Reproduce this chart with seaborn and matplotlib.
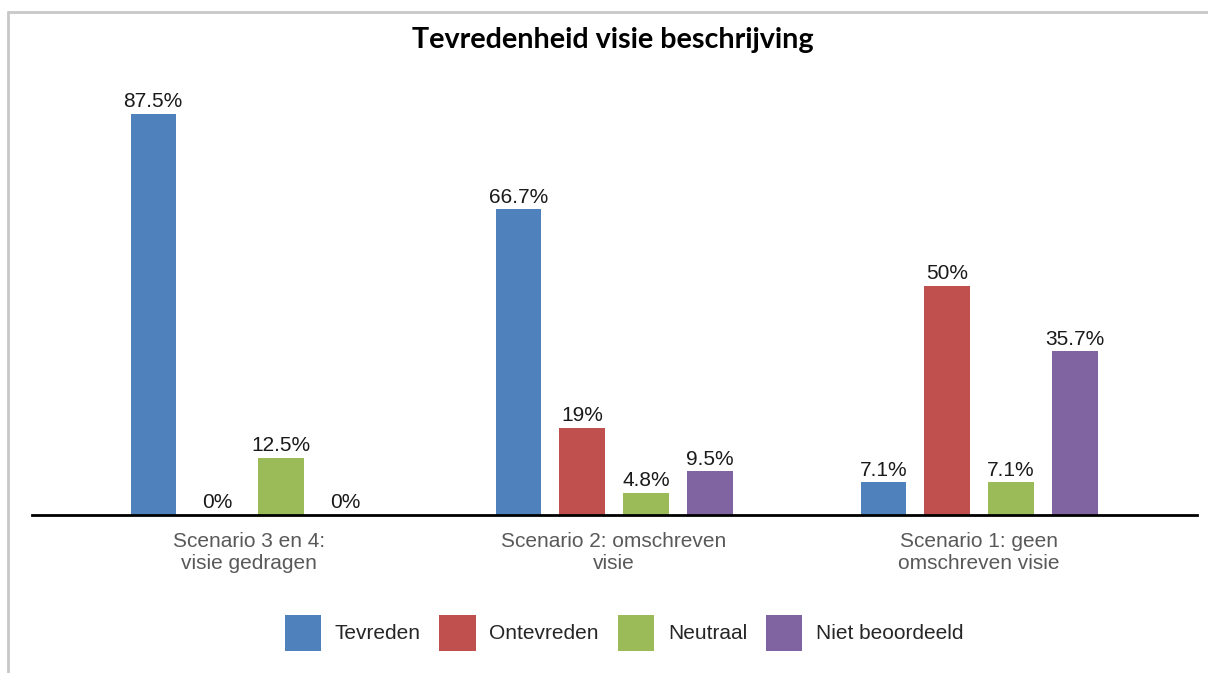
import numpy as np
import pandas as pd
import matplotlib.pyplot as plt
from matplotlib.lines import Line2D
import seaborn as sns

# data
scenarios = ["Scenario 3 en 4:\nvisie gedragen",
             "Scenario 2: omschreven\nvisie",
             "Scenario 1: geen\nomschreven visie"]
answers = ["Tevreden", "Ontevreden", "Neutraal", "Niet beoordeeld"]
tevreden = [87.5, 66.7, 7.1]
ontevreden = [0, 19, 50]
neutraal = [12.5, 4.8, 7.1]
niet_beoordeeld = [0, 9.5, 35.7]
colors = ["#4F81BD", "#C0504D", "#9BBB59", "#8064A2"]

df = pd.DataFrame({
    "scenario": scenarios * 4,
    "antwoord": np.repeat(answers, 3),
    "pct": tevreden + ontevreden + neutraal + niet_beoordeeld,
})

sns.set_style("white")
plt.rcParams["font.family"] = ["Liberation Sans", "DejaVu Sans"]

W, H = 1208, 673
fig = plt.figure(figsize=(W / 100, H / 100), dpi=100)
ax = fig.add_axes([32 / W, (H - 515) / H, (1197 - 32) / W, (515 - 60) / H])

sns.barplot(data=df, x="scenario", y="pct", hue="antwoord", order=scenarios,
            hue_order=answers, palette=colors, width=0.7, gap=0.29,
            saturation=1, linewidth=0, ax=ax)

for cont in ax.containers:
    ax.bar_label(cont, labels=[f"{v:g}%" for v in cont.datavalues],
                 padding=2, fontsize=15, color="#1a1a1a")

ax.set_xlim(-0.5945, 2.597)
ax.set_ylim(0, 99.3)
ax.set_xlabel("")
ax.set_ylabel("")
ax.set_yticks([])
sns.despine(ax=ax, left=True)
ax.spines["bottom"].set_color("black")
ax.spines["bottom"].set_linewidth(2)
ax.tick_params(axis="x", length=0, pad=12, labelsize=15, labelcolor="#595959")
for t in ax.get_xticklabels():
    t.set_linespacing(1.2)

handles, labels = ax.get_legend_handles_labels()
ax.get_legend().remove()
fig.legend(handles, labels, loc="center", bbox_to_anchor=(624 / W, 1 - 633 / H),
           ncol=4, frameon=False, fontsize=15, handlelength=1.75, handleheight=2.3,
           handletextpad=0.65, columnspacing=0.9)

fig.text(613 / W, 1 - 40 / H, "Tevredenheid visie beschrijving", ha="center",
         va="center", fontsize=20.7, fontweight="bold", color="black",
         family=["Lato", "DejaVu Sans"])

# light frame around the chart area
fig.add_artist(Line2D([8 / W, 1], [1 - 12 / H, 1 - 12 / H], color="#c8c8c8", lw=2))
fig.add_artist(Line2D([8 / W, 8 / W], [0, 1 - 12 / H], color="#c8c8c8", lw=2))

fig.savefig("out.png", dpi=100)
